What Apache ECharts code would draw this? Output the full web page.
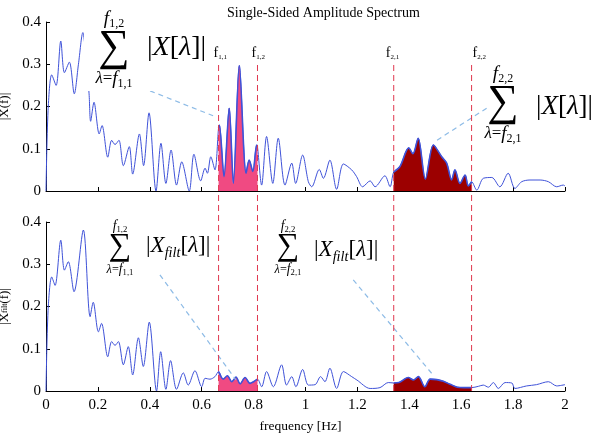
<!DOCTYPE html>
<html>
<head>
<meta charset="utf-8">
<script src="https://cdn.jsdelivr.net/npm/echarts@6/dist/echarts.min.js"></script>
<style>
html, body { margin: 0; padding: 0; background: #fff; }
#chart { width: 600px; height: 433px; }
</style>
</head>
<body>
<div id="chart"></div>
<script>
// ---- data ----
const rawFreq = [0, 0.008, 0.022, 0.039, 0.057, 0.071, 0.09, 0.109, 0.125, 0.142, 0.155, 0.166, 0.172, 0.185, 0.205, 0.216, 0.238, 0.253, 0.266, 0.281, 0.298, 0.321, 0.334, 0.36, 0.376, 0.397, 0.424, 0.443, 0.462, 0.482, 0.503, 0.523, 0.552, 0.57, 0.596, 0.613, 0.622, 0.635, 0.651, 0.665, 0.668, 0.686, 0.706, 0.722, 0.745, 0.771, 0.783, 0.797, 0.812, 0.815, 0.831, 0.85, 0.874, 0.895, 0.921, 0.947, 0.962, 0.989, 1.011, 1.024, 1.053, 1.069, 1.094, 1.12, 1.146, 1.178, 1.197, 1.22, 1.249, 1.268, 1.306, 1.326, 1.34, 1.364, 1.398, 1.414, 1.434, 1.462, 1.493, 1.525, 1.544, 1.563, 1.576, 1.595, 1.615, 1.627, 1.64, 1.66, 1.685, 1.718, 1.749, 1.781, 1.807, 1.833, 1.865, 1.904, 1.936, 1.968, 1.993, 2];
const rawAmp = [0, 0.19, 0.275, 0.25, 0.355, 0.28, 0.305, 0.23, 0.3, 0.375, 0.31, 0.23, 0.165, 0.21, 0.135, 0.155, 0.08, 0.12, 0.11, 0.12, 0.06, 0.105, 0.04, 0.135, 0.06, 0.185, 0, 0.113, 0.018, 0.097, 0.014, 0.069, 0, 0.087, 0.024, 0.054, 0.042, 0.081, 0.05, 0.15, 0.156, 0.034, 0.196, 0.018, 0.297, 0.042, 0.073, 0.046, 0.109, 0.105, 0.014, 0.129, 0.018, 0.125, 0.014, 0.066, 0.018, 0.085, 0.022, 0.01, 0.051, 0.03, 0.073, 0.004, 0.064, 0.05, 0.034, 0.01, 0.024, 0.01, 0.036, 0.01, 0.045, 0.058, 0.102, 0.088, 0.125, 0.028, 0.109, 0.081, 0.066, 0.026, 0.05, 0.018, 0.038, 0.012, 0.022, 0.002, 0.03, 0.032, 0.01, 0.042, 0.006, 0.022, 0.026, 0.026, 0.022, 0.01, 0.014, 0.012];

const filtFreq = [0, 0.008, 0.022, 0.035, 0.057, 0.071, 0.086, 0.108, 0.144, 0.17, 0.182, 0.202, 0.214, 0.238, 0.253, 0.266, 0.279, 0.298, 0.317, 0.334, 0.356, 0.375, 0.398, 0.426, 0.442, 0.462, 0.48, 0.503, 0.529, 0.548, 0.574, 0.6, 0.613, 0.632, 0.651, 0.665, 0.683, 0.699, 0.716, 0.732, 0.748, 0.767, 0.786, 0.8, 0.815, 0.831, 0.85, 0.876, 0.908, 0.927, 0.947, 0.963, 0.989, 1.011, 1.037, 1.058, 1.075, 1.094, 1.12, 1.146, 1.178, 1.198, 1.249, 1.287, 1.319, 1.34, 1.36, 1.396, 1.416, 1.435, 1.46, 1.48, 1.506, 1.531, 1.557, 1.585, 1.61, 1.64, 1.666, 1.685, 1.705, 1.724, 1.743, 1.769, 1.795, 1.807, 1.852, 1.89, 1.936, 1.968, 2];
const filtAmp = [0, 0.19, 0.27, 0.25, 0.357, 0.286, 0.306, 0.235, 0.381, 0.176, 0.21, 0.14, 0.16, 0.081, 0.117, 0.108, 0.117, 0.062, 0.105, 0.038, 0.126, 0.058, 0.163, 0, 0.093, 0.004, 0.072, 0.004, 0.043, 0.014, 0.048, 0.01, 0.03, 0.028, 0.034, 0.046, 0.028, 0.036, 0.022, 0.033, 0.017, 0.032, 0.018, 0.022, 0.028, 0.01, 0.046, 0.01, 0.062, 0.014, 0.034, 0.01, 0.051, 0.014, 0.015, 0.034, 0.022, 0.054, 0.006, 0.046, 0.034, 0.026, 0.006, 0.008, 0.02, 0.019, 0.02, 0.032, 0.026, 0.034, 0.01, 0.028, 0.027, 0.023, 0.016, 0.009, 0.008, 0.008, 0.011, 0.014, 0.009, 0.02, 0.006, 0.02, 0.019, 0.006, 0.012, 0.015, 0.022, 0.012, 0.015];

// band limits f1,1 f1,2 f2,1 f2,2
const bandEdges = [0.665, 0.815, 1.34, 1.64];
const bandNames = ['1,1', '1,2', '2,1', '2,2'];

const LINE_BLUE = '#3f52d8';
const FILL_PINK = '#f04a82';
const FILL_RED = '#9c0000';
const DASH_RED = '#e0384f';
const SERIF = "'Liberation Serif', 'DejaVu Serif', serif";

const zip = (xs, ys) => xs.map((x, i) => [x, ys[i]]);
const band = (pts, lo, hi) => pts.filter(p => p[0] >= lo - 1e-9 && p[0] <= hi + 1e-9);

const rawData = zip(rawFreq, rawAmp);
const filtData = zip(filtFreq, filtAmp);

const chart = echarts.init(document.getElementById('chart'));

function xAxisCfg(gridIndex, showLabels) {
    return {
        type: 'value', gridIndex, min: 0, max: 2, interval: 0.2,
        axisLine: { show: gridIndex < 2, lineStyle: { color: '#000', width: 1 } },
        axisTick: { show: gridIndex < 2, inside: true, length: 4, lineStyle: { color: '#000' } },
        axisLabel: {
            show: showLabels, margin: 7, color: '#000', fontFamily: SERIF, fontSize: 15,
            formatter: v => String(Math.round(v * 10) / 10)
        },
        splitLine: { show: false },
        name: showLabels ? 'frequency [Hz]' : '',
        nameLocation: 'middle', nameGap: 28,
        nameTextStyle: { color: '#000', fontFamily: SERIF, fontSize: 13.5, padding: [0, 10, 0, 0] }
    };
}

function yAxisCfg(gridIndex, name, rich) {
    return {
        type: 'value', gridIndex, min: 0, max: 0.4, interval: 0.1,
        axisLine: { show: true, lineStyle: { color: '#000', width: 1 } },
        axisTick: { show: true, inside: true, length: 4, lineStyle: { color: '#000' } },
        axisLabel: {
            margin: 5, color: '#000', fontFamily: SERIF, fontSize: 15,
            formatter: v => v === 0 ? '0' : v.toFixed(1)
        },
        splitLine: { show: false },
        name, nameLocation: 'middle', nameGap: 33, nameRotate: 90,
        nameTextStyle: { color: '#000', fontFamily: SERIF, fontSize: 13, rich }
    };
}

const leaderStyle = { color: '#8dbbe6', type: [5, 4], width: 1.2 };

function spectrumSeries(idx, data, leaders) {
    return {
        type: 'line', xAxisIndex: idx, yAxisIndex: idx, data,
        showSymbol: false, smooth: 0.3, z: 3,
        lineStyle: { color: LINE_BLUE, width: 1 },
        markLine: {
            silent: true, symbol: 'none', label: { show: false },
            lineStyle: leaderStyle,
            data: leaders.map(l => [{ coord: l[0] }, { coord: l[1] }])
        }
    };
}

function fillSeries(idx, data, lo, hi, color) {
    return {
        type: 'line', xAxisIndex: idx, yAxisIndex: idx,
        data: band(data, lo, hi), showSymbol: false, smooth: 0.3, z: 4,
        lineStyle: { color: LINE_BLUE, width: 1.6 },
        areaStyle: { color, opacity: 1 }
    };
}

// red dashed band limit, drawn on the overlay grid spanning both panels
function edgeSeries(f) {
    return {
        type: 'line', xAxisIndex: 2, yAxisIndex: 2, z: 6, silent: true,
        data: [[f, 0], [f, 1]], showSymbol: false,
        lineStyle: { color: DASH_RED, type: [6, 4], width: 1 }
    };
}

const gridBase = { left: 46, width: 519, containLabel: false, outerBoundsMode: 'none' };

const option = {
    animation: false,
    backgroundColor: '#fff',
    title: {
        text: 'Single-Sided Amplitude Spectrum', left: 222, top: 1,
        textStyle: { color: '#000', fontFamily: SERIF, fontSize: 14, fontWeight: 'normal' }
    },
    grid: [
        Object.assign({ top: 22, height: 169 }, gridBase),
        Object.assign({ top: 222, height: 169 }, gridBase),
        Object.assign({ top: 65, height: 326 }, gridBase)
    ],
    xAxis: [xAxisCfg(0, false), xAxisCfg(1, true), xAxisCfg(2, false)],
    yAxis: [
        yAxisCfg(0, '|X(f)|'),
        yAxisCfg(1, '|X{s|filt}(f)|', { s: { fontSize: 8, fontFamily: SERIF, color: '#000' } }),
        { type: 'value', gridIndex: 2, min: 0, max: 1, show: false }
    ],
    series: [
        spectrumSeries(0, rawData, [[[0.401, 0.237], [0.644, 0.178]], [[1.698, 0.196], [1.499, 0.117]]]),
        fillSeries(0, rawData, bandEdges[0], bandEdges[1], FILL_PINK),
        fillSeries(0, rawData, bandEdges[2], bandEdges[3], FILL_RED),
        spectrumSeries(1, filtData, [[[0.439, 0.275], [0.732, 0.026]], [[1.184, 0.263], [1.486, 0.042]]]),
        fillSeries(1, filtData, bandEdges[0], bandEdges[1], FILL_PINK),
        fillSeries(1, filtData, bandEdges[2], bandEdges[3], FILL_RED),
        ...bandEdges.map(edgeSeries)
    ]
};
chart.setOption(option);

// ---- annotations ----
const it = { fontFamily: SERIF, fontStyle: 'italic', color: '#000' };
const rm = { fontFamily: SERIF, color: '#000' };

function txt(x, y, text, rich, align, z) {
    return {
        type: 'text', x, y, z: z || 60, silent: true,
        style: { text, rich, align: align || 'center', verticalAlign: 'middle', fill: '#000' }
    };
}

function sumBlock(cx, cy, s, top, bottom) {
    const lh = 22 * s;
    const rich = {
        f: Object.assign({ fontSize: 19 * s, lineHeight: lh, verticalAlign: 'middle' }, it),
        l: Object.assign({ fontSize: 17 * s, lineHeight: lh, verticalAlign: 'middle' }, it),
        e: Object.assign({ fontSize: 17 * s, lineHeight: lh, verticalAlign: 'middle' }, rm),
        i: Object.assign({ fontSize: 12 * s, lineHeight: lh, verticalAlign: 'bottom' }, rm),
        S: Object.assign({ fontSize: 44 * s, lineHeight: 44 * s }, rm)
    };
    return [
        txt(cx, cy - 29 * s, '{f|f}{i|' + top + '}', rich),
        txt(cx, cy, '{S|∑}', rich),
        txt(cx, cy + 31 * s, '{l|λ}{e|=}{f|f}{i|' + bottom + '}', rich)
    ];
}

function absBlock(x, y, size, filt) {
    const rich = {
        r: Object.assign({ fontSize: size, lineHeight: size * 1.2, verticalAlign: 'middle' }, rm),
        x: Object.assign({ fontSize: size, lineHeight: size * 1.2, verticalAlign: 'middle' }, it),
        s: Object.assign({ fontSize: size * 0.62, lineHeight: size * 1.2, verticalAlign: 'bottom' }, it)
    };
    const text = '{r||}{x|X}' + (filt ? '{s|filt}' : '') + '{r|[}{x|λ}{r|]|}';
    return txt(x, y, text, rich, 'left');
}

const bandLabels = bandEdges.map((f, i) => {
    const p = chart.convertToPixel({ gridIndex: 2 }, [f, 1]);
    const dx = [-5, -6, -8, 1][i];
    return txt(p[0] + dx, p[1] - 12, '{f|f}{i|' + bandNames[i] + '}', {
        f: Object.assign({ fontSize: 14, lineHeight: 16, verticalAlign: 'middle' }, rm),
        i: Object.assign({ fontSize: 7, lineHeight: 16, verticalAlign: 'bottom' }, rm)
    }, 'left');
});

chart.setOption({
    graphic: [
        { type: 'rect', z: 50, silent: true, shape: { x: 84, y: 14, width: 126, height: 77 }, style: { fill: '#fff' } },
        ...sumBlock(114, 48, 1, '1,2', '1,1'),
        absBlock(147, 48, 28, false),
        ...sumBlock(503, 103, 1, '2,2', '2,1'),
        absBlock(536, 107, 27, false),
        ...sumBlock(120, 247, 0.72, '1,2', '1,1'),
        absBlock(146, 246, 23, true),
        ...sumBlock(288, 247, 0.72, '2,2', '2,1'),
        absBlock(314, 250, 23, true),
        ...bandLabels
    ]
});
</script>
</body>
</html>
